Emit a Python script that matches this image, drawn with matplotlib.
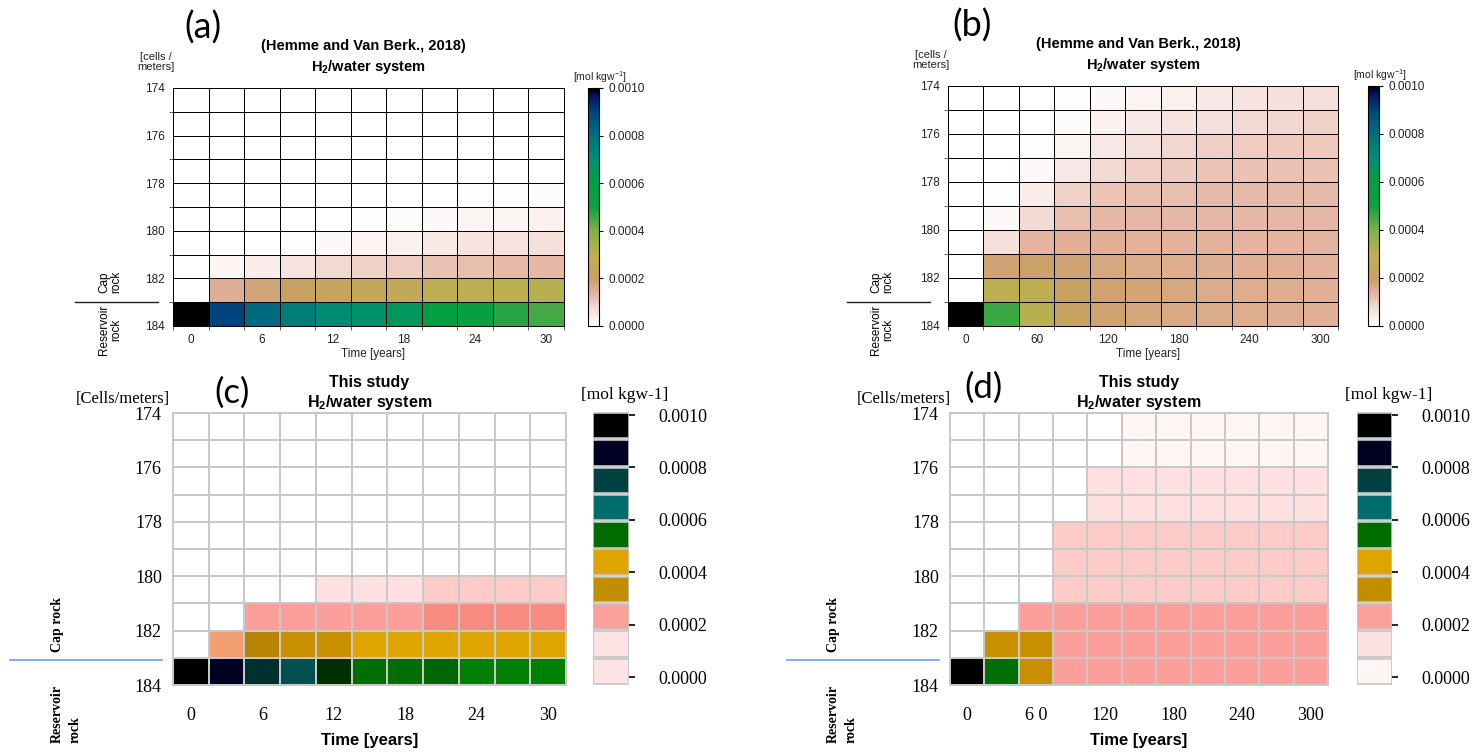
"""H2 concentration grids: reference (a, b) vs this study (c, d)."""
import matplotlib
matplotlib.use("Agg")
import matplotlib.pyplot as plt
import numpy as np
from matplotlib.colors import LinearSegmentedColormap, ListedColormap, BoundaryNorm, Normalize
from matplotlib.lines import Line2D

plt.rcParams["mathtext.fontset"] = "custom"
plt.rcParams["mathtext.rm"] = "Liberation Sans"
plt.rcParams["mathtext.bf"] = "Liberation Sans:bold"
plt.rcParams["mathtext.it"] = "Liberation Sans:italic"

W, H = 1475, 754
SANS, SERIF = "Liberation Sans", "Liberation Serif"

# ---- data (concentrations in 1e-4 mol/kgw, rows = depth 174..184, cols = time steps) ----
depth_edges = np.arange(174, 185)
depth_ticks = [174, 176, 178, 180, 182, 184]
label_cols = [0, 2, 4, 6, 8, 10]
labels_30 = ["0", "6", "12", "18", "24", "30"]
labels_300 = ["0", "60", "120", "180", "240", "300"]
labels_300_d = ["0", "6 0", "120", "180", "240", "300"]
cb_ticks = [0.0, 0.0002, 0.0004, 0.0006, 0.0008, 0.0010]

conc_a = np.array([
    [0, 0, 0, 0, 0, 0, 0, 0, 0, 0, 0],
    [0, 0, 0, 0, 0, 0, 0, 0, 0, 0, 0],
    [0, 0, 0, 0, 0, 0, 0, 0, 0, 0, 0.01],
    [0, 0, 0, 0, 0, 0, 0, 0, 0.01, 0.02, 0.03],
    [0, 0, 0, 0, 0, 0, 0.02, 0.03, 0.05, 0.07, 0.1],
    [0, 0, 0, 0, 0, 0.05, 0.1, 0.15, 0.2, 0.25, 0.3],
    [0, 0, 0, 0.05, 0.15, 0.25, 0.35, 0.45, 0.55, 0.6, 0.65],
    [0, 0.2, 0.4, 0.6, 0.8, 0.9, 1.0, 1.15, 1.2, 1.25, 1.3],
    [0, 1.5, 1.8, 2.0, 2.3, 2.5, 2.6, 2.8, 2.9, 3.0, 3.1],
    [10.5, 9.0, 8.1, 7.6, 7.2, 6.9, 6.6, 6.0, 5.6, 4.8, 4.5],
]) * 1e-4

conc_b = np.array([
    [0, 0, 0.01, 0.05, 0.15, 0.25, 0.35, 0.45, 0.55, 0.65, 0.7],
    [0, 0, 0.02, 0.1, 0.3, 0.45, 0.6, 0.7, 0.8, 0.85, 0.9],
    [0, 0, 0.05, 0.25, 0.5, 0.7, 0.85, 0.95, 1.0, 1.05, 1.05],
    [0, 0.02, 0.15, 0.5, 0.8, 0.95, 1.05, 1.1, 1.15, 1.15, 1.15],
    [0, 0.05, 0.4, 0.9, 1.1, 1.2, 1.2, 1.25, 1.25, 1.25, 1.25],
    [0, 0.15, 0.75, 1.2, 1.3, 1.3, 1.3, 1.3, 1.3, 1.3, 1.3],
    [0, 0.7, 1.35, 1.45, 1.45, 1.4, 1.4, 1.4, 1.35, 1.35, 1.35],
    [0, 1.85, 1.95, 1.85, 1.7, 1.6, 1.55, 1.5, 1.45, 1.45, 1.4],
    [0, 3.0, 2.9, 2.2, 1.9, 1.8, 1.7, 1.6, 1.55, 1.5, 1.45],
    [10.5, 4.6, 3.1, 2.2, 1.9, 1.75, 1.65, 1.6, 1.55, 1.5, 1.45],
]) * 1e-4

conc_c = np.array([
    [0, 0, 0, 0, 0, 0, 0, 0, 0, 0, 0],
    [0, 0, 0, 0, 0, 0, 0, 0, 0, 0, 0],
    [0, 0, 0, 0, 0, 0, 0, 0, 0, 0, 0],
    [0, 0, 0, 0, 0, 0, 0, 0, 0, 0, 0],
    [0, 0, 0, 0, 0, 0, 0, 0, 0, 0, 0],
    [0, 0, 0, 0, 0, 0, 0, 0, 0, 0, 0],
    [0, 0, 0, 0, 0.7, 0.75, 0.8, 1.1, 1.15, 1.2, 1.2],
    [0, 0, 1.7, 1.75, 1.8, 1.8, 1.85, 2.1, 2.2, 2.2, 2.3],
    [0, 2.8, 3.2, 3.8, 3.7, 4.5, 4.5, 4.5, 4.6, 4.6, 4.6],
    [10.5, 9.5, 8.5, 7.8, 7.2, 6.8, 6.7, 6.2, 5.5, 5.5, 5.5],
]) * 1e-4

conc_d = np.array([
    [0, 0, 0, 0, 0, 0.3, 0.3, 0.3, 0.3, 0.3, 0.3],
    [0, 0, 0, 0, 0, 0.3, 0.3, 0.3, 0.3, 0.3, 0.3],
    [0, 0, 0, 0, 0.7, 0.7, 0.7, 0.7, 0.7, 0.7, 0.7],
    [0, 0, 0, 0, 0.7, 0.7, 0.7, 0.7, 0.7, 0.7, 0.7],
    [0, 0, 0, 1.2, 1.2, 1.2, 1.2, 1.2, 1.2, 1.2, 1.2],
    [0, 0, 0, 1.2, 1.2, 1.2, 1.2, 1.2, 1.2, 1.2, 1.2],
    [0, 0, 0, 1.2, 1.2, 1.2, 1.2, 1.2, 1.2, 1.2, 1.2],
    [0, 0, 1.6, 1.8, 1.8, 1.8, 1.8, 1.8, 1.8, 1.8, 1.8],
    [0, 3.8, 3.7, 1.8, 1.8, 1.8, 1.8, 1.8, 1.8, 1.8, 1.8],
    [10.5, 6.8, 3.8, 1.8, 1.8, 1.8, 1.8, 1.8, 1.8, 1.8, 1.8],
]) * 1e-4

# ---- colour scales ----
ref_cmap = LinearSegmentedColormap.from_list("ref", [
    (0.0, "#ffffff"), (0.08, "#f3d8d2"), (0.14, "#e2b09a"), (0.2, "#c9a064"),
    (0.3, "#bcb050"), (0.4, "#7cb04c"), (0.5, "#10a040"), (0.6, "#00a040"),
    (0.7, "#009070"), (0.8, "#007080"), (0.9, "#00457e"), (0.97, "#001060"),
    (1.0, "#000000")])
ref_cmap.set_over("black")
ref_norm = Normalize(0, 0.001)

cell_bounds = np.array([0.1, 0.5, 1.0, 1.5, 2.0, 2.5, 3.0, 3.5, 4.0, 5.0,
                        6.0, 6.5, 7.0, 7.5, 8.0, 9.0, 10.0, 11.0]) * 1e-4
cell_colors = ["#fff5f5", "#ffe0e0", "#fdcbc8", "#fc9f9b", "#f98a80", "#f0a070",
               "#b88400", "#c89000", "#e0a400", "#008000", "#006600", "#006e00",
               "#003000", "#005050", "#003030", "#000022", "#000000"]
study_cmap = ListedColormap(cell_colors)
study_cmap.set_under("white")
study_norm = BoundaryNorm(cell_bounds, study_cmap.N)

cb_colors_c = ["#fde3e3", "#fde3e3", "#f9a29a", "#c28e00", "#e0a400",
               "#006c00", "#006c6c", "#004040", "#000022", "#000000"]
cb_colors_d = ["#fff5f5", "#fde0e0", "#f9a29a", "#c28e00", "#e0a400",
               "#006c00", "#006c6c", "#004040", "#000022", "#000000"]

fig = plt.figure(figsize=(W / 100, H / 100), dpi=100)


def px_axes(l, t, r, b):
    return fig.add_axes([l / W, 1 - b / H, (r - l) / W, (b - t) / H])


def ftext(x, y, s, **kw):
    kw.setdefault("ha", "center")
    kw.setdefault("va", "center")
    return fig.text(x / W, 1 - y / H, s, **kw)


def hline(x0, x1, y, **kw):
    fig.add_artist(Line2D([x0 / W, x1 / W], [1 - y / H, 1 - y / H], **kw))


def ref_panel(box, cbox, data, xlabels, letter, lx, cx):
    ax = px_axes(*box)
    ax.pcolormesh(np.arange(12), depth_edges, data, cmap=ref_cmap, norm=ref_norm,
                  edgecolors="black", linewidth=0.55)
    ax.set_xlim(0, 11); ax.set_ylim(184, 174)
    ax.set_yticks(depth_ticks)
    ax.set_yticklabels([str(v) for v in depth_ticks], family=SANS, fontsize=8.5, color="#222")
    ax.set_xticks(np.array(label_cols) + 0.5)
    ax.set_xticklabels(xlabels, family=SANS, fontsize=8.5, color="#222")
    ax.set_xticks(np.arange(12), minor=True)
    ax.set_yticks(depth_edges, minor=True)
    ax.tick_params(which="major", length=0, pad=6)
    ax.tick_params(which="minor", length=3, color="#444")
    for s in ax.spines.values():
        s.set_color("black"); s.set_linewidth(0.7)

    cax = px_axes(*cbox)
    cb = fig.colorbar(plt.cm.ScalarMappable(norm=ref_norm, cmap=ref_cmap), cax=cax, ticks=cb_ticks)
    cb.ax.set_yticklabels([f"{t:.4f}" for t in cb_ticks], family=SANS, fontsize=8.5, color="#222")
    cb.ax.tick_params(length=3, width=0.8, pad=4)
    cb.outline.set_linewidth(0.8)

    l, t, r, b = box
    mid = (l + r) / 2
    ftext(mid - 5, t - 42, "(Hemme and Van Berk., 2018)", family=SANS, fontsize=10.5, weight="bold")
    ftext(mid, t - 21, r"H$_\mathbf{2}$/water system", family=SANS, fontsize=10.5, weight="bold")
    ftext(lx, t - 60, letter, family="Lato", fontsize=26)
    ftext(l - 17, t - 26, "[cells /\nmeters]", family=SANS, fontsize=8, linespacing=1.0, color="#222")
    ftext(mid + 5, b + 28, "Time [years]", family=SANS, fontsize=8.5, color="#222")
    ftext(cbox[0] + 12, t - 11, r"[mol kgw$^{\mathdefault{-1}}$]", family=SANS, fontsize=7.5, color="#222")
    hline(cx - 35, cx + 48, b - 24, color="#222", lw=1)
    ftext(cx, b - 44, "Cap\nrock", family=SANS, fontsize=8.5, rotation=90, linespacing=1.0)
    ftext(cx, b + 4, "Reservoir\nrock", family=SANS, fontsize=8.5, rotation=90, linespacing=1.0)


def study_panel(box, cbox, data, xlabels, cb_colors, letter, lxy, cx, lab_dx):
    ax = px_axes(*box)
    ax.pcolormesh(np.arange(12), depth_edges, data, cmap=study_cmap, norm=study_norm,
                  edgecolors="#c8c8c8", linewidth=1.4)
    ax.set_xlim(0, 11); ax.set_ylim(184, 174)
    ax.set_yticks(depth_ticks)
    ax.set_yticklabels([str(v) for v in depth_ticks], family=SERIF, fontsize=13)
    ax.set_xticks(np.array(label_cols) + 0.5)
    ax.set_xticklabels(xlabels, family=SERIF, fontsize=13)
    ax.tick_params(length=0, pad=8)
    ax.tick_params(axis="x", pad=16)
    for s in ax.spines.values():
        s.set_color("#c8c8c8"); s.set_linewidth(1.4)

    cax = px_axes(*cbox)
    levels = np.arange(10) * 1e-4
    cax.bar(0.5, 0.93e-4, bottom=levels + 0.035e-4, width=1.0, color=cb_colors,
            edgecolor="#c4c4c4", linewidth=1.2)
    cax.set_xlim(0, 1); cax.set_ylim(0, 0.001)
    for s in cax.spines.values():
        s.set_visible(False)
    cax.set_xticks([])
    cax.yaxis.tick_right()
    cax.set_yticks([0.29e-4 + v * 0.96 for v in cb_ticks])
    cax.set_yticklabels([f"{t:.4f}" for t in cb_ticks], family=SERIF, fontsize=13)
    cax.tick_params(axis="y", length=4, width=1.2, pad=17)

    l, t, r, b = box
    mid = (l + r) / 2
    ftext(mid, t - 30, "This study", family=SANS, fontsize=11.5, weight="bold")
    ftext(mid, t - 10, r"H$_\mathbf{2}$/water system", family=SANS, fontsize=11.5, weight="bold")
    ftext(lxy[0], lxy[1], letter, family="Lato", fontsize=25)
    ftext(l - lab_dx, t - 14, "[Cells/meters]", family=SERIF, fontsize=12)
    ftext(mid, b + 55, "Time [years]", family=SANS, fontsize=12, weight="bold")
    ftext((cbox[0] + cbox[2]) / 2 + 14, t - 18, "[mol kgw-1]", family=SERIF, fontsize=12.5)
    hline(l - 163, l - 11, b - 25, color="#6fa0d8", lw=1.2)
    ftext(cx, b - 60, "Cap rock", family=SERIF, fontsize=10, weight="bold", rotation=90)
    ftext(cx + 9, b + 29, "Reservoir\nrock", family=SERIF, fontsize=10, weight="bold",
          rotation=90, linespacing=1.5, ma="left")


ref_panel((173, 88, 564, 326), (588, 88, 599, 326), conc_a, labels_30, "(a)", 203, 110)
ref_panel((948, 86, 1338, 326), (1368, 86, 1379, 326), conc_b, labels_300, "(b)", 972, 882)
study_panel((173, 413, 566, 685), (593, 412, 629, 685), conc_c, labels_30, cb_colors_c,
            "(c)", (232, 393), 57, 50)
study_panel((950, 413, 1328, 685), (1357, 412, 1392, 685), conc_d, labels_300_d, cb_colors_d,
            "(d)", (984, 388), 833, 46)

fig.savefig("out.png", dpi=100)
